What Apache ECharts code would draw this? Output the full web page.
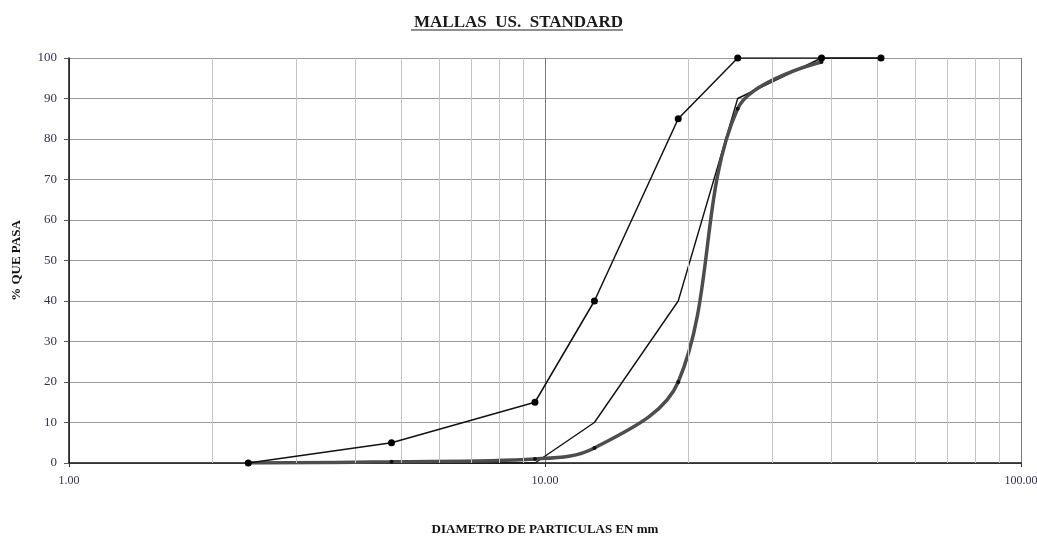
<!DOCTYPE html>
<html>
<head>
<meta charset="utf-8">
<script src="https://cdn.jsdelivr.net/npm/echarts@6/dist/echarts.min.js"></script>
<style>
  html, body { margin: 0; padding: 0; background: #fff; overflow: hidden; }
  #chart { width: 1037px; height: 536px; }
</style>
</head>
<body>
<div id="chart"></div>
<script>
// Sieve openings (mm) for the US Standard series
const sieveSizes = [2.38, 4.76, 9.525, 12.7, 19.05, 25.4, 38.1, 50.8];
// Gradation band limits (% passing)
const upperLimit = [0, 5, 15, 40, 85, 100, 100, 100];
const lowerLimit = [0, 0, 0, 10, 40, 90, 100, 100];
// Measured sample (% passing)
const sampleSizes = [2.38, 4.76, 9.525, 12.7, 19.05, 25.4, 38.1];
const samplePassing = [0, 0.3, 1, 3.7, 20, 87.5, 99];
// Minor vertical grid positions on the log axis
const minorGrid = [2, 3, 4, 5, 6, 7, 8, 9, 20, 30, 40, 50, 60, 70, 80, 90];

const pairs = (xs, ys) => xs.map((x, i) => [x, ys[i]]);
const serif = '"Liberation Serif", "Times New Roman", serif';

const chart = echarts.init(document.getElementById('chart'), null, { renderer: 'canvas' });

const option = {
  animation: false,
  backgroundColor: '#fff',
  title: {
    text: 'MALLAS  US.  STANDARD',
    left: 'center',
    top: 9,
    textStyle: { fontFamily: serif, fontWeight: 'bold', fontSize: 17, color: '#1a1a1a' }
  },
  graphic: [
    { type: 'line', shape: { x1: 411, y1: 30, x2: 623, y2: 30 }, style: { stroke: '#222', lineWidth: 1.2 } }
  ],
  grid: { left: 69, right: 16, top: 58, bottom: 73, outerBoundsMode: 'none', containLabel: false },
  xAxis: {
    type: 'log',
    logBase: 10,
    min: 1,
    max: 100,
    name: 'DIAMETRO DE PARTICULAS EN mm',
    nameLocation: 'middle',
    nameGap: 60,
    nameTextStyle: { fontFamily: serif, fontWeight: 'bold', fontSize: 13, color: '#111' },
    axisLine: { show: true, onZero: false, lineStyle: { color: '#111', width: 1.5 } },
    axisTick: { show: true, length: 4, lineStyle: { color: '#333' } },
    axisLabel: {
      fontFamily: serif, fontSize: 12, color: '#33334d', margin: 12,
      formatter: v => Number(v).toFixed(2)
    },
    splitLine: { show: true, lineStyle: { color: '#7a7a7a', width: 1 } },
    minorTick: { show: false },
    minorSplitLine: { show: false }
  },
  yAxis: {
    type: 'value',
    min: 0,
    max: 100,
    interval: 10,
    name: '% QUE PASA',
    nameLocation: 'middle',
    nameGap: 46,
    nameRotate: 90,
    nameTextStyle: { fontFamily: serif, fontWeight: 'bold', fontSize: 13, color: '#111' },
    axisLine: { show: true, lineStyle: { color: '#111', width: 1.5 } },
    axisTick: { show: true, length: 5, lineStyle: { color: '#555' } },
    axisLabel: { fontFamily: serif, fontSize: 13, color: '#33334d', margin: 12 },
    splitLine: { show: true, lineStyle: { color: '#9a9a9a', width: 1 } }
  },
  series: [
    {
      name: 'grid',
      type: 'line',
      data: [],
      silent: true,
      markLine: {
        silent: true,
        symbol: 'none',
        label: { show: false },
        lineStyle: { color: '#c4c4c4', width: 1, type: 'solid' },
        data: minorGrid.map(v => ({ xAxis: v }))
      }
    },
    {
      name: 'Límite inferior',
      type: 'line',
      data: pairs(sieveSizes, lowerLimit),
      symbol: 'none',
      lineStyle: { color: '#111', width: 1.4 },
      z: 3
    },
    {
      name: 'Muestra',
      type: 'line',
      data: pairs(sampleSizes, samplePassing),
      smooth: 0.35,
      symbol: 'circle',
      symbolSize: 4,
      itemStyle: { color: '#111' },
      lineStyle: { color: '#4d4d4d', width: 3.5 },
      z: 4
    },
    {
      name: 'Límite superior',
      type: 'line',
      data: pairs(sieveSizes, upperLimit),
      symbol: 'circle',
      symbolSize: 7,
      itemStyle: { color: '#000' },
      lineStyle: { color: '#111', width: 1.5 },
      z: 5
    }
  ]
};

chart.setOption(option);
</script>
</body>
</html>
